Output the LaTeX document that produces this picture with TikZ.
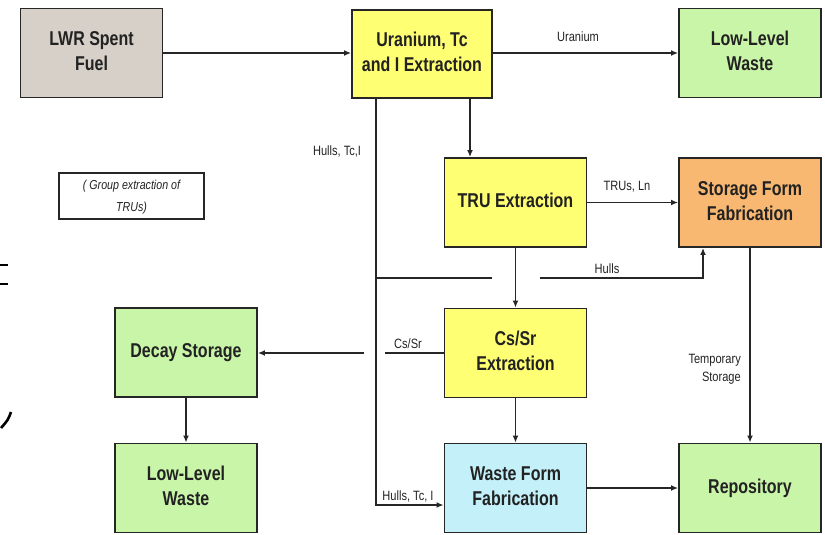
\documentclass[tikz,border=0pt]{standalone}
\usepackage{fontspec}
\setmainfont{Liberation Sans}
\usepackage{graphicx}
\usetikzlibrary{arrows.meta,calc}
\definecolor{bordc}{HTML}{262626}
\definecolor{txtc}{HTML}{222222}
\definecolor{greyf}{HTML}{D6D0C8}
\definecolor{yelf}{HTML}{FFFF73}
\definecolor{grnf}{HTML}{C9F5A9}
\definecolor{orgf}{HTML}{F8B871}
\definecolor{cyaf}{HTML}{C4F1F9}
\newcommand{\boxtxt}[1]{\scalebox{0.8}[1]{\begin{tabular}{@{}c@{}}#1\end{tabular}}}
\newcommand{\smtxt}[1]{\scalebox{0.82}[1]{\begin{tabular}{@{}c@{}}#1\end{tabular}}}
\tikzset{
  blk/.style={draw=bordc, line width=1.9pt, rectangle, inner sep=0pt,
    minimum width=142pt, minimum height=89pt,
    font=\fontsize{20}{25}\selectfont\bfseries, text=txtc},
  lbl/.style={inner sep=0pt, font=\fontsize{13.5}{18}\selectfont, text=txtc},
  conn/.style={draw=bordc, line width=1.7pt},
  arr/.style={conn, -{Latex[length=7pt,width=6pt]}},
  frag/.style={draw=black, line width=2.6pt}
}
\begin{document}
\begin{tikzpicture}[x=1pt,y=-1pt]
\useasboundingbox (0,0) rectangle (825,535);
% boxes
\node[blk, fill=greyf] (lwr)   at (91.5,53)   {\boxtxt{LWR Spent\\Fuel}};
\node[blk, fill=yelf, minimum width=140pt, minimum height=88pt] (uran) at (422,54) {\boxtxt{Uranium, Tc\\and I Extraction}};
\node[blk, fill=grnf]  (llwa)  at (750,53)    {\boxtxt{Low-Level\\Waste}};
\node[blk, fill=yelf]  (tru)   at (515.5,202.5) {\boxtxt{TRU Extraction}};
\node[blk, fill=orgf]  (sff)   at (750,202.5) {\boxtxt{Storage Form\\Fabrication}};
\node[blk, fill=yelf]  (cssr)  at (515.5,353) {\boxtxt{Cs/Sr\\Extraction}};
\node[blk, fill=grnf]  (decay) at (186,352.5) {\boxtxt{Decay Storage}};
\node[blk, fill=grnf]  (llwb)  at (186,488)   {\boxtxt{Low-Level\\Waste}};
\node[blk, fill=cyaf]  (wff)   at (515.5,488) {\boxtxt{Waste Form\\Fabrication}};
\node[blk, fill=grnf]  (repo)  at (750,488)   {\boxtxt{Repository}};
% note box
\node[draw=bordc, line width=1.5pt, minimum width=145pt, minimum height=46pt, inner sep=0pt,
      font=\fontsize{13}{22}\selectfont\itshape, text=txtc] (grp) at (131.5,196)
      {\smtxt{( Group extraction of\\TRUs)}};
% labels
\node[lbl] (luran) at (578,38)  {\smtxt{Uranium}};
\node[lbl] (ltru)  at (627,187) {\smtxt{TRUs, Ln}};
\node[lbl] (lhtop) at (337,152) {\smtxt{Hulls, Tc,I}};
\node[lbl] (lhull) at (607,270) {\smtxt{Hulls}};
\node[lbl] (lcs)   at (408,345) {\smtxt{Cs/Sr}};
\node[lbl, anchor=east] (ltemp) at (741,369) {\scalebox{0.82}[1]{\begin{tabular}{@{}r@{}}Temporary\\Storage\end{tabular}}};
\node[lbl] (lhbot) at (408,497) {\smtxt{Hulls, Tc, I}};
% coordinates
\coordinate (hb) at (376,505);
\coordinate (h1) at (376,278);
\coordinate (h2) at (492,278);
\coordinate (h3) at (540,278);
\coordinate (h4) at (703,278);
\coordinate (c1) at (385,353);
\coordinate (c2) at (364,353);
% connectors
\draw[arr] (lwr.east) -- (lwr.east -| uran.west);
\draw[arr] (uran.east |- llwa.west) -- (llwa.west);
\draw[arr] ([xshift=48pt]uran.south) -- ([xshift=48pt]uran.south |- tru.north);
\draw[arr] (tru.east) -- (sff.west);
\draw[arr] (tru.south) -- (cssr.north);
\draw[arr] (cssr.south) -- (wff.north);
\draw[arr] (wff.east) -- (repo.west);
\draw[arr] (sff.south) -- (repo.north);
\draw[arr] (decay.south) -- (llwb.north);
\draw[arr] ([xshift=-46pt]uran.south) -- (hb) -- (hb -| wff.west);
\draw[conn] (h1) -- (h2);
\draw[arr] (h3) -- (h4) -- (h4 |- sff.south);
\draw[conn] (cssr.west) -- (c1);
\draw[arr] (c2) -- (c2 -| decay.east);
% fragments at left edge
\draw[frag] (0,265) -- (8,265);
\draw[frag] (0,284) -- (8,284);
\draw[frag] (11,412) .. controls (8,420) .. (1,428);
\end{tikzpicture}
\end{document}
